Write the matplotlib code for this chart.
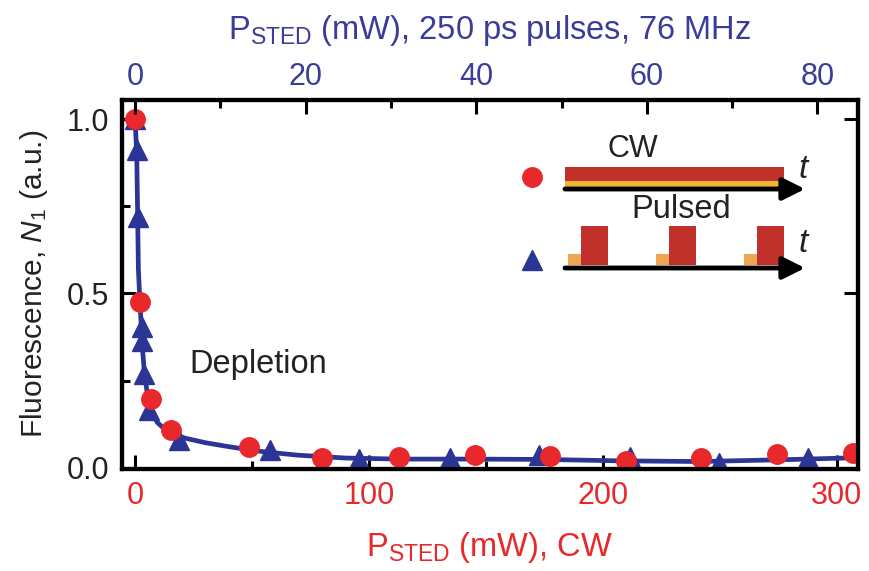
#!/usr/bin/env python3
import matplotlib

matplotlib.use("Agg")
import matplotlib.pyplot as plt
from matplotlib.patches import Rectangle
from matplotlib.ticker import MultipleLocator

plt.rcParams["font.family"] = ["Liberation Sans", "DejaVu Sans"]
plt.rcParams["mathtext.fontset"] = "custom"
plt.rcParams["mathtext.rm"] = "Liberation Sans"
plt.rcParams["mathtext.it"] = "Liberation Sans:italic"

# CW excitation: STED power (mW, bottom axis) vs fluorescence
cw_power = [0, 2.1, 6.7, 15.5, 48.5, 80, 113, 145.5, 177.5, 210, 242, 274.5, 307]
cw_signal = [1.0, 0.477, 0.196, 0.107, 0.059, 0.027, 0.031, 0.037, 0.033, 0.019, 0.029, 0.041, 0.043]

# pulsed excitation: STED power (mW, top axis) vs fluorescence
pulsed_power = [0.0, 0.2, 0.32, 0.78, 0.85, 1.0, 1.6, 5.1, 15.8, 26.3, 36.9, 47.3, 58.0, 68.4, 78.9]
pulsed_signal = [1.0, 0.912, 0.72, 0.405, 0.363, 0.27, 0.165, 0.081, 0.052, 0.024, 0.029, 0.038, 0.030, 0.014, 0.029]

# fitted depletion curve, in CW units
fit_power = [0, 0.7, 1.1, 1.4, 2.1, 2.7, 3.2, 4.0, 5.5, 7.5, 9.5, 12.8, 17, 21.4, 30,
             40.6, 55, 70, 90, 113, 145, 175, 207, 241, 276, 309]
fit_signal = [1.0, 0.9, 0.72, 0.57, 0.47, 0.40, 0.34, 0.27, 0.20, 0.155, 0.13, 0.110, 0.095,
              0.085, 0.072, 0.060, 0.046, 0.036, 0.028, 0.025, 0.025, 0.024, 0.020, 0.018, 0.023, 0.029]

RED = "#e8282b"
BLUE = "#2b3595"
TOP_TEXT = "#3a3d98"
BAR_RED = "#c1312b"
YELLOW = "#f1b436"
ORANGE = "#f0a552"
INK = "#222222"

W, H = 870, 571
fig = plt.figure(figsize=(W / 100, H / 100), dpi=100)
fig.patch.set_facecolor("white")

ax = fig.add_axes([122 / W, 1 - 468.5 / H, (858 - 122) / W, (468.5 - 100) / H])
ax.set_xlim(-5.6, 309.1)
ax.set_ylim(-0.002, 1.055)
scale = 3.647
ax_top = ax.twiny()
ax_top.set_xlim(-5.6 / scale, 309.1 / scale)

ax.plot(fit_power, fit_signal, color=BLUE, lw=3.4, zorder=2, solid_capstyle="round")
ax.plot(pulsed_power, pulsed_signal, ls="none", marker="^", ms=15, color=BLUE,
        mec=BLUE, transform=ax_top.transData, zorder=3)
ax.plot(cw_power, cw_signal, ls="none", marker="o", ms=14, color=RED, mec=RED, zorder=4)

ax.text(52.6, 0.296, "Depletion", fontsize=23.5, ha="center", va="center", color=INK)

for a in (ax, ax_top):
    for s in a.spines.values():
        s.set_linewidth(3)

ax.xaxis.set_major_locator(MultipleLocator(100))
ax.xaxis.set_minor_locator(MultipleLocator(50))
ax.yaxis.set_major_locator(MultipleLocator(0.5))
ax.yaxis.set_minor_locator(MultipleLocator(0.25))
ax.yaxis.set_major_formatter(plt.FuncFormatter(lambda v, p: f"{v:.1f}"))
ax.tick_params(axis="both", which="major", direction="in", length=10, width=2.2, labelsize=22, pad=9)
ax.tick_params(axis="both", which="minor", direction="in", length=6, width=2.2)
ax.tick_params(axis="x", which="both", top=False, labelcolor=RED)
ax.tick_params(axis="y", which="major", right=True, labelcolor=INK)
ax.tick_params(axis="y", which="minor", right=False)

ax_top.xaxis.set_major_locator(MultipleLocator(20))
ax_top.xaxis.set_minor_locator(MultipleLocator(10))
ax_top.tick_params(axis="x", which="major", direction="in", length=10, width=2.2,
                   labelsize=22, pad=6, labelcolor=TOP_TEXT)
ax_top.tick_params(axis="x", which="minor", direction="in", length=6, width=2.2)

ax.set_xlabel(r"P$_\mathrm{STED}$ (mW), CW", fontsize=23.5, color=RED, labelpad=14)
ax.set_ylabel(r"Fluorescence, $N_1$ (a.u.)", fontsize=21.5, color=INK, labelpad=12)
ax_top.set_xlabel(r"P$_\mathrm{STED}$ (mW), 250 ps pulses, 76 MHz", fontsize=23.5,
                  color=TOP_TEXT, labelpad=16)

# inset schematic of CW vs pulsed illumination, in figure pixels
ov = fig.add_axes([0, 0, 1, 1], zorder=10)
ov.set_xlim(0, W)
ov.set_ylim(H, 0)
ov.axis("off")
ov.patch.set_visible(False)

ov.plot([532], [177], marker="o", ms=14, color=RED, mec=RED, ls="none")
ov.plot([532], [260], marker="^", ms=15, color=BLUE, mec=BLUE, ls="none")

ov.add_patch(Rectangle((565, 167), 219, 14, color=BAR_RED, lw=0))
ov.add_patch(Rectangle((565, 181), 219, 6, color=YELLOW, lw=0))
for x0 in (568, 656.5, 744.5):
    ov.add_patch(Rectangle((x0, 253.5), 13, 11.5, color=ORANGE, lw=0))
    ov.add_patch(Rectangle((x0 + 13, 226), 27, 39, color=BAR_RED, lw=0))

for y in (189, 268):
    ov.annotate("", xy=(805, y), xytext=(565, y),
                arrowprops=dict(arrowstyle="-|>,head_length=0.9,head_width=0.45", lw=3.5,
                                color="black", shrinkA=0, shrinkB=0, mutation_scale=15))

ov.text(633, 149, "CW", fontsize=22, ha="center", va="center", color=INK)
ov.text(681, 209, "Pulsed", fontsize=23.5, ha="center", va="center", color=INK)
ov.text(803, 170, "t", fontsize=24, style="italic", ha="center", va="center", color=INK)
ov.text(803, 243, "t", fontsize=24, style="italic", ha="center", va="center", color=INK)

fig.savefig("out.png", dpi=100)
